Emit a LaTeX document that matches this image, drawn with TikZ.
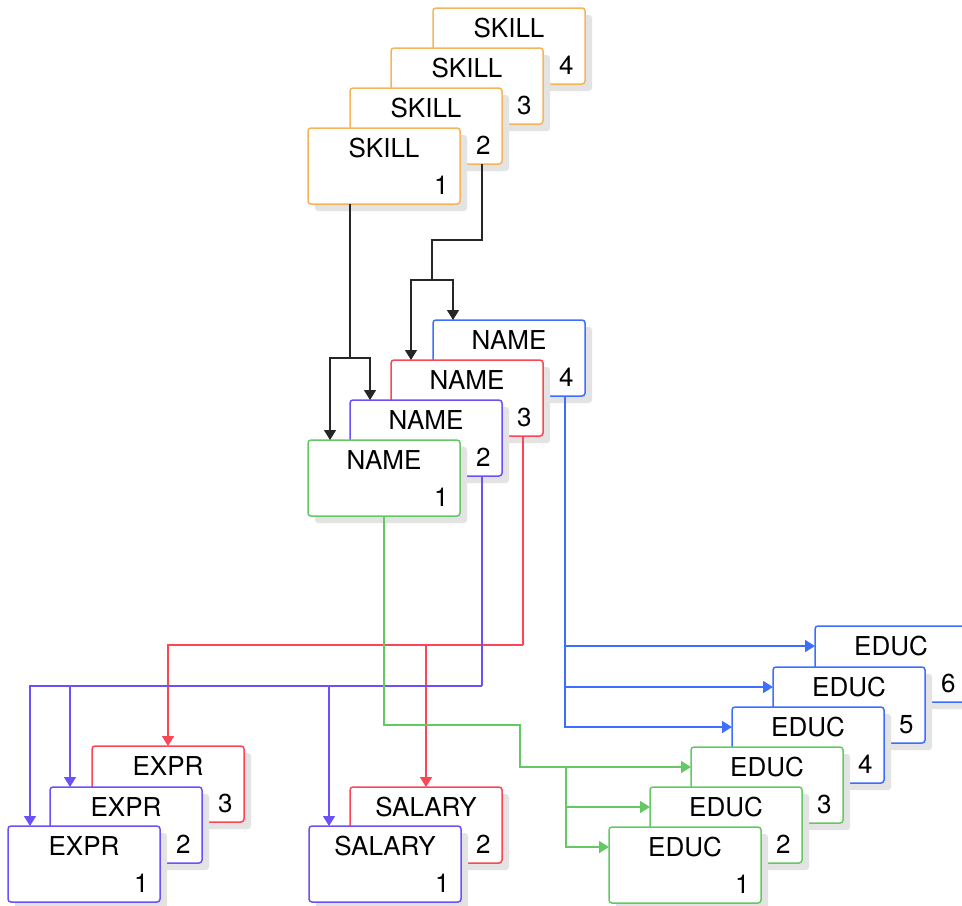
\documentclass[tikz,border=0pt]{standalone}
\usepackage{fontspec}
\setmainfont{TeX Gyre Heros}
\usetikzlibrary{arrows.meta, shadows}

\definecolor{org}{RGB}{245,180,90}
\definecolor{pur}{RGB}{108,80,250}
\definecolor{rd}{RGB}{250,70,85}
\definecolor{blu}{RGB}{60,110,255}
\definecolor{grn}{RGB}{100,200,100}

\begin{document}
\begin{tikzpicture}[x=0.5pt, y=-0.5pt, >={Triangle[length=5pt,width=6pt]},
    font=\fontsize{13}{15}\selectfont,
    rec/.style={draw=#1, fill=white, rounded corners=1.5pt, line width=0.75pt,
        minimum width=76pt, minimum height=38pt, inner sep=0pt, outer sep=0pt,
        drop shadow={shadow xshift=3.5pt, shadow yshift=-3.5pt, opacity=1, fill=black!11}},
    ttl/.style={anchor=north, inner sep=5pt},
    num/.style={anchor=south east, inner xsep=5.5pt, inner ysep=4.5pt},
    link/.style={line width=0.75pt, color=#1}, link/.default=black!85]
    \useasboundingbox (0,0) rectangle (962,905);

    % stacks, back to front
    \foreach \i/\x/\y in {4/509/46, 3/467/86, 2/426/126, 1/384/166}
        \node (s\i) [rec=org, label={[ttl]north:SKILL}, label={[num]south east:\i}] at (\x,\y) {};
    \foreach \i/\x/\y/\c in {4/509/358/blu, 3/467/398/rd, 2/426/438/pur, 1/384/478/grn}
        \node (n\i) [rec=\c, label={[ttl]north:NAME}, label={[num]south east:\i}] at (\x,\y) {};
    \foreach \i/\x/\y/\c in {3/168/784/rd, 2/126/825/pur, 1/84/864/pur}
        \node (e\i) [rec=\c, label={[ttl]north:EXPR}, label={[num]south east:\i}] at (\x,\y) {};
    \foreach \i/\x/\y/\c in {2/426/825/rd, 1/385/864/pur}
        \node (y\i) [rec=\c, label={[ttl]north:SALARY}, label={[num]south east:\i}] at (\x,\y) {};
    \foreach \i/\x/\y/\c in {6/891/664/blu, 5/849/705/blu, 4/808/745/blu, 3/767/785/grn, 2/726/825/grn, 1/685/865/grn}
        \node (d\i) [rec=\c, label={[ttl]north:EDUC}, label={[num]south east:\i}] at (\x,\y) {};

    % skill -> name
    \coordinate (k1) at (350,358);
    \coordinate (k2) at (432,280);
    \draw [link] ([xshift=21pt]s1.south west) |- (k1);
    \draw [link, ->] (k1) -| ([xshift=11pt]n1.north west);
    \draw [link, ->] (k1) -| ([xshift=10pt]n2.north west);
    \draw [link] ([xshift=-10pt]s2.south east) -- ++(0,76) -| (k2);
    \draw [link, ->] (k2) -| ([xshift=10pt]n3.north west);
    \draw [link, ->] (k2) -| ([xshift=10pt]n4.north west);

    % name -> expr, salary
    \coordinate (r1) at (523,645);
    \draw [link=rd] ([xshift=-10pt]n3.south east) |- (r1);
    \draw [link=rd, ->] (r1) -| (e3.north);
    \draw [link=rd, ->] (r1) -| (y2.north);
    \coordinate (p1) at (482,686);
    \draw [link=pur] ([xshift=-10pt]n2.south east) |- (p1);
    \draw [link=pur, ->] (p1) -| ([xshift=11pt]e1.north west);
    \draw [link=pur, ->] (p1) -| ([xshift=10pt]e2.north west);
    \draw [link=pur, ->] (p1) -| ([xshift=10pt]y1.north west);

    % name -> educ
    \foreach \i in {4,5,6} { \draw [link=blu, ->] ([xshift=-10pt]n4.south east) |- ([yshift=-10pt]d\i.north west); }
    \coordinate (g1) at (520,725);
    \coordinate (g2) at (566,767);
    \draw [link=grn, ->] (n1.south) |- (g1) |- ([yshift=-10pt]d3.north west);
    \draw [link=grn, ->] (g2) |- ([yshift=-10pt]d2.north west);
    \draw [link=grn, ->] (g2) |- ([yshift=-10pt]d1.north west);
\end{tikzpicture}
\end{document}
